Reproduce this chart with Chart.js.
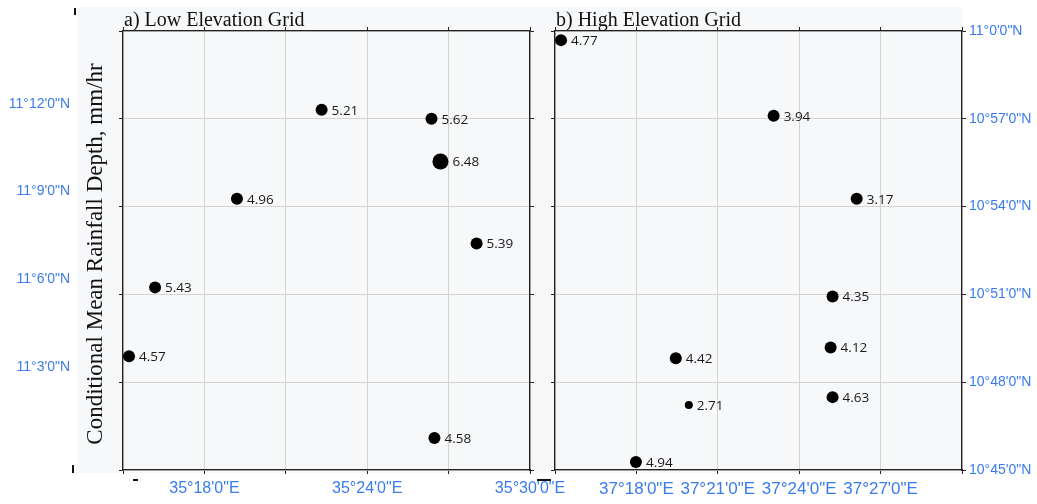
<!DOCTYPE html>
<html>
<head>
<meta charset="utf-8">
<script src="https://cdn.jsdelivr.net/npm/chart.js@4.4.0/dist/chart.umd.min.js"></script>
<style>
  html, body { margin: 0; padding: 0; background: #fff; }
  #wrap { position: relative; width: 1037px; height: 504px; overflow: hidden; }
  #shade { position: absolute; left: 77px; top: 7px; width: 886px; height: 466px; background: #f7f8fa; }
  canvas { position: absolute; top: 0; }
  #lowCanvas { left: 0; }
  #highCanvas { left: 540px; }
</style>
</head>
<body>
<div id="wrap">
  <div id="shade"></div>
  <canvas id="lowCanvas" width="600" height="504" style="width:600px;height:504px"></canvas>
  <canvas id="highCanvas" width="497" height="504" style="width:497px;height:504px"></canvas>
</div>
<script>
// station positions in decimal degrees, depth in mm/hr
const lowLon = [35.2537, 35.2697, 35.3200, 35.3720, 35.4395, 35.4450, 35.4672, 35.4413];
const lowLat = [11.0648, 11.1040, 11.1545, 11.2052, 11.2000, 11.1757, 11.1290, 11.0182];
const lowDepth = [4.57, 5.43, 4.96, 5.21, 5.62, 6.48, 5.39, 4.58];

const highLon = [37.2537, 37.3843, 37.4353, 37.4205, 37.4193, 37.3242, 37.3322, 37.4205, 37.2997];
const highLat = [10.9948, 10.9517, 10.9045, 10.8488, 10.8198, 10.8137, 10.7870, 10.7915, 10.7545];
const highDepth = [4.77, 3.94, 3.17, 4.35, 4.12, 4.42, 2.71, 4.63, 4.94];

const lowLonTicks = [35.25, 35.30, 35.35, 35.40, 35.45, 35.50];
const lowLonLabels = ['', '35\u00b018\'0"E', '', '35\u00b024\'0"E', '', '35\u00b030\'0"E'];
const lowLatTicks = [11.00, 11.05, 11.10, 11.15, 11.20, 11.25];
const lowLatLabels = ['', '11\u00b03\'0"N', '11\u00b06\'0"N', '11\u00b09\'0"N', '11\u00b012\'0"N', ''];

const highLonTicks = [37.25, 37.30, 37.35, 37.40, 37.45, 37.50];
const highLonLabels = ['', '37\u00b018\'0"E', '37\u00b021\'0"E', '37\u00b024\'0"E', '37\u00b027\'0"E', ''];
const highLatTicks = [10.75, 10.80, 10.85, 10.90, 10.95, 11.00];
const highLatLabels = ['10\u00b045\'0"N', '10\u00b048\'0"N', '10\u00b051\'0"N', '10\u00b054\'0"N', '10\u00b057\'0"N', '11\u00b00\'0"N'];

const yTitle = 'Conditional Mean Rainfall Depth, mm/hr';

const BLUE = '#3a7bec';
const GRID = '#d6d2ce';
const FRAME = '#222';

function fixSize(prop, size) {
    return function (scale) {
        scale[prop] = size;
        scale.paddingLeft = 0;
        scale.paddingRight = 0;
        scale.paddingTop = 0;
        scale.paddingBottom = 0;
    };
}

function setTicks(values) {
    return function (scale) {
        scale.ticks = values.map(v => ({ value: v }));
    };
}

function dotRadius(v) {
    if (v < 3) return 4;
    if (v < 6) return 6;
    return 8;
}

const valueLabels = {
    id: 'valueLabels',
    afterDatasetsDraw(chart) {
        const ctx = chart.ctx;
        const vals = chart.data.datasets[0].depth;
        const meta = chart.getDatasetMeta(0);
        ctx.save();
        ctx.font = '13.5px "Open Sans"';
        ctx.fillStyle = '#1a1a1a';
        ctx.textBaseline = 'middle';
        ctx.textAlign = 'left';
        meta.data.forEach((pt, i) => {
            ctx.fillText(vals[i].toFixed(2), pt.x + dotRadius(vals[i]) + 4, pt.y + 1);
        });
        ctx.restore();
    }
};

const panelText = {
    id: 'panelText',
    afterDraw(chart, args, opts) {
        const ctx = chart.ctx;
        const area = chart.chartArea;
        ctx.save();
        ctx.fillStyle = '#111';
        ctx.font = '20px "Liberation Serif"';
        ctx.textBaseline = 'alphabetic';
        ctx.textAlign = 'left';
        ctx.fillText(opts.title, area.left + 1, 26);
        if (opts.yTitle) {
            ctx.translate(96, 254);
            ctx.rotate(-Math.PI / 2);
            ctx.textAlign = 'center';
            ctx.textBaseline = 'middle';
            ctx.font = '23px "Liberation Serif"';
            ctx.fillText(opts.yTitle, 0, 0);
            ctx.setTransform(1, 0, 0, 1, 0, 0);
        }
        if (opts.marks) {
            ctx.strokeStyle = '#111';
            ctx.lineWidth = 2;
            opts.marks.forEach(m => {
                ctx.beginPath();
                ctx.moveTo(m[0], m[1]);
                ctx.lineTo(m[2], m[3]);
                ctx.stroke();
            });
        }
        ctx.restore();
    }
};

function lonScale(pos, ticks, labels, fontSize, shown) {
    return {
        type: 'linear',
        axis: 'x',
        position: pos,
        min: ticks[0],
        max: ticks[ticks.length - 1],
        afterBuildTicks: setTicks(ticks),
        afterFit: fixSize('height', shown ? 34 : 6),
        ticks: {
            display: shown,
            autoSkip: false,
            maxRotation: 0,
            padding: 5,
            color: BLUE,
            font: { family: '"Liberation Sans"', size: fontSize },
            callback: (v, i) => labels[i]
        },
        grid: {
            color: shown ? GRID : 'rgba(0,0,0,0)',
            tickColor: FRAME,
            tickLength: 4,
            lineWidth: 1
        },
        border: { display: true, color: FRAME, width: 1.3 }
    };
}

function latScale(pos, ticks, labels, width, shown, pad, offset) {
    return {
        type: 'linear',
        axis: 'y',
        position: pos,
        min: ticks[0],
        max: ticks[ticks.length - 1],
        afterBuildTicks: setTicks(ticks),
        afterFit: fixSize('width', width),
        ticks: {
            display: shown,
            autoSkip: false,
            padding: pad,
            labelOffset: offset,
            color: BLUE,
            font: { family: '"Liberation Sans"', size: 14 },
            callback: (v, i) => labels[i]
        },
        grid: {
            color: shown ? GRID : 'rgba(0,0,0,0)',
            tickColor: FRAME,
            tickLength: 4,
            lineWidth: 1
        },
        border: { display: true, color: FRAME, width: 1.3 }
    };
}

function makePanel(id, lon, lat, depth, scales, padding, text) {
    return new Chart(document.getElementById(id), {
        type: 'scatter',
        data: {
            datasets: [{
                data: lon.map((x, i) => ({ x: x, y: lat[i] })),
                depth: depth,
                backgroundColor: '#000',
                borderColor: '#000',
                borderWidth: 0,
                pointRadius: ctx => dotRadius(depth[ctx.dataIndex]),
                pointHoverRadius: ctx => dotRadius(depth[ctx.dataIndex])
            }]
        },
        options: {
            responsive: false,
            animation: false,
            layout: { padding: padding },
            plugins: {
                legend: { display: false },
                tooltip: { enabled: false },
                panelText: text
            },
            scales: scales
        },
        plugins: [valueLabels, panelText]
    });
}

makePanel('lowCanvas', lowLon, lowLat, lowDepth, {
    x: lonScale('bottom', lowLonTicks, lowLonLabels, 16, true),
    x2: lonScale('top', lowLonTicks, lowLonLabels, 16, false),
    y: latScale('left', lowLatTicks, lowLatLabels, 123, true, 49, -15),
    y2: latScale('right', lowLatTicks, lowLatLabels, 6, false, 0, 0)
}, { left: 0, right: 64, top: 25, bottom: 0 }, {
    title: 'a) Low Elevation Grid',
    yTitle: yTitle,
    marks: [[75, 8, 75, 15], [73, 465, 73, 473], [133, 480, 138, 480], [537, 480, 551, 480]]
});

makePanel('highCanvas', highLon, highLat, highDepth, {
    x: lonScale('bottom', highLonTicks, highLonLabels, 17, true),
    x2: lonScale('top', highLonTicks, highLonLabels, 17, false),
    y: latScale('right', highLatTicks, highLatLabels, 75, true, 3, 0),
    y2: latScale('left', highLatTicks, highLatLabels, 6, false, 0, 0)
}, { left: 9, right: 0, top: 25, bottom: 0 }, {
    title: 'b) High Elevation Grid'
});
</script>
</body>
</html>
